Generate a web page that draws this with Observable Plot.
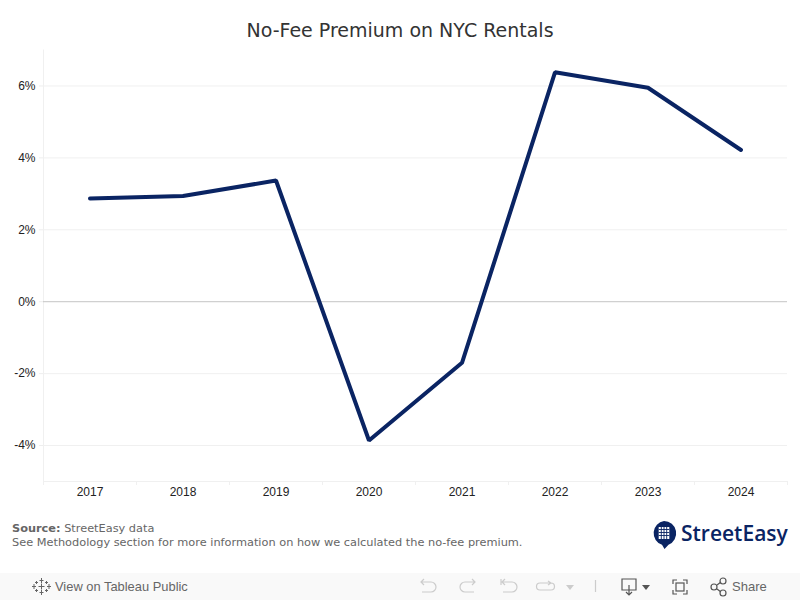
<!DOCTYPE html>
<html><head><meta charset="utf-8">
<script src="https://cdn.jsdelivr.net/npm/d3@7"></script>
<script src="https://cdn.jsdelivr.net/npm/@observablehq/plot@0.6"></script>
<style>
html,body{margin:0;padding:0;background:#fff;width:800px;height:600px;overflow:hidden}
#page{position:relative;width:800px;height:600px}
#title{position:absolute;left:0;right:0;top:19px;text-align:center;font:19px/22px "DejaVu Sans";color:#333}
#chart{position:absolute;left:0;top:0}
#notes{position:absolute;left:12px;top:521px;font:11.33px/14px "DejaVu Sans";color:#666}
#logo{position:absolute;left:650px;top:519px}
#bar{position:absolute;left:0;top:573px;width:800px;height:27px;background:#f9f9f9}
</style></head><body>
<div id="page">
<div id="chart"></div>
<div id="title">No-Fee Premium on NYC Rentals</div>
<div id="notes"><b>Source:</b> StreetEasy data<br>See Methodology section for more information on how we calculated the no-fee premium.</div>
<svg id="logo" width="142" height="32"><path d="M14 2a12.300 12.300 0 0 1 4.500 23.700l-4 4.300-2.500-4.200a12.300 12.300 0 0 1 2-23.800z" fill="#0a2463"/><rect x="8.700" y="8" width="10.600" height="12" fill="#fff"/><path d="M8.700 10.500h10.600M8.700 13.500h10.600M8.700 16.500h10.600M11.300 8v12M14 8v12M16.700 8v12" stroke="#0a2463" stroke-width="0.900"/><text x="31" y="22" font-family="Open Sans" font-weight="600" font-size="21" fill="#0a2463">StreetEasy</text></svg>
<div id="bar"><svg width="800" height="27" fill="none">
<g stroke="#666" stroke-width="1"><path d="M41.500 5v5M39.500 7.500h4M41.500 17v5M39.500 19.500h4M34 11v5M32 13.500h4M49 11v5M47 13.500h4M41.500 10.500v6M38.500 13.500h6M36.500 8v3M35 9.500h3M46.500 8v3M45 9.500h3M36.500 16v3M35 17.500h3M46.500 16v3M45 17.500h3"/></g>
<text x="55" y="18" font-family="Liberation Sans" font-size="12.900" fill="#666" stroke="none">View on Tableau Public</text>
<g stroke="#ccc" stroke-width="1.200"><path d="M421 9h10a5 5 0 0 1 0 10h-9M424 6l-3 3 3 3"/><path d="M475 9h-10a5 5 0 0 0 0 10h9M472 6l3 3-3 3"/><path d="M502 9h10a5 5 0 0 1 0 10h-9M505 6l-3 3 3 3M501 6v6"/><path d="M550 10h-10a3.500 3.500 0 0 0 0 7h11a3.500 3.500 0 0 0 0-7M548 8l3 2-3 2"/><path d="M595.500 7v12"/></g>
<path d="M566 12h8l-4 5z" fill="#ccc"/>
<g stroke="#555" stroke-width="1.200"><path d="M629 17h-7v-11h14v11h-7M629 12v10M626 19l3 3 3-3"/><path d="M673 11v-4h4M683 7h4v4M687 17v4h-4M677 21h-4v-4"/><rect x="676" y="10" width="8" height="8"/><circle cx="714" cy="14" r="3"/><circle cx="723" cy="8" r="3"/><circle cx="723" cy="20" r="3"/><path d="M717 12l4-3M717 16l4 3"/></g>
<path d="M642 12h8l-4 5z" fill="#555"/>
<text x="732" y="18" font-family="Liberation Sans" font-size="13" fill="#666" stroke="none">Share</text>
</svg></div>
</div>
<script>
const years = [2017, 2018, 2019, 2020, 2021, 2022, 2023, 2024];
const premium = [2.87, 2.94, 3.37, -3.86, -1.70, 6.38, 5.95, 4.22];
const yTicks = [-4, -2, 0, 2, 4, 6];
const bandEdges = [2016.5, 2017.5, 2018.5, 2019.5, 2020.5, 2021.5, 2022.5, 2023.5, 2024.5];
const rows = years.map((year, i) => ({year, value: premium[i]}));
const chart = Plot.plot({
  width: 800, height: 573,
  marginLeft: 43, marginRight: 13, marginTop: 49.5, marginBottom: 92,
  style: {background: "transparent", fontFamily: "Liberation Sans", fontSize: "12px", color: "#222"},
  x: {domain: [2016.5, 2024.5]},
  y: {domain: [-5, 7]},
  marks: [
    Plot.ruleY(yTicks.filter(d => d !== 0), {stroke: "#f0f0f0", strokeWidth: 1}),
    Plot.ruleX([2016.5], {stroke: "#f0f0f0"}),
    Plot.ruleY([-5], {stroke: "#f0f0f0"}),
    Plot.ruleX(bandEdges, {y1: -5, y2: -5.11, stroke: "#f0f0f0"}),
    Plot.axisY({ticks: yTicks, tickFormat: d => `${d}%`, tickSize: 4, stroke: "#eee", tickPadding: 4, fill: "#222", label: null}),
    Plot.axisX({ticks: years, tickFormat: "d", tickSize: 0, tickPadding: 6, fill: "#222", label: null}),
    Plot.ruleY([0], {stroke: "#c4c4c4", strokeWidth: 1}),
    Plot.line(rows, {x: "year", y: "value", stroke: "#0a2463", strokeWidth: 4, strokeLinejoin: "miter", strokeLinecap: "round"})
  ]
});
document.getElementById("chart").append(chart);
</script>
</body></html>
